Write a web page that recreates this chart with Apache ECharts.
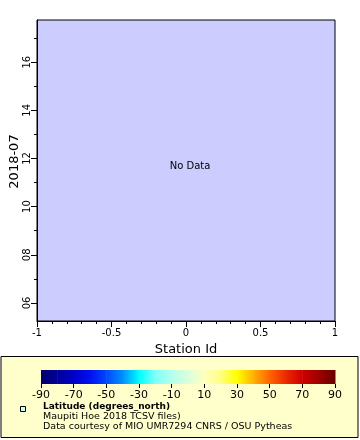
<!DOCTYPE html>
<html><head><meta charset="utf-8">
<script src="https://cdn.jsdelivr.net/npm/echarts@6/dist/echarts.min.js"></script>
<style>html,body{margin:0;padding:0;background:#fff}#c{width:360px;height:440px}</style>
</head><body><div id="c"></div>
<script>
// Axis ranges / ticks
const xRange = [-1, 1];
const yRange = [5.25, 17.75];           // days of 2018-07
const yMajorTicks = [6, 8, 10, 12, 14, 16];
const yMinorTicks = [7, 9, 11, 13, 15, 17];
// Colour bar (latitude, degrees_north)
const cbValues = [-90, -80, -70, -60, -50, -40, -30, -20, -10, 0, 10, 20, 30, 40, 50, 60, 70, 80, 90];
const cbColors = ['#00006e', '#00009a', '#0000c8', '#0010f0', '#0048ff', '#0090ff', '#00ffff', '#80fff8', '#b4ffec', '#daffdc', '#ffffc0', '#ffff80', '#ffff00', '#ffb000', '#ff6400', '#ec2800', '#cc0000', '#a00000', '#680000'];
const cbTickLabels = [-90, -70, -50, -30, -10, 10, 30, 50, 70, 90];
const legendLines = ['Latitude (degrees_north)', 'Maupiti Hoe 2018 TCSV files)', 'Data courtesy of MIO UMR7294 CNRS / OSU Pytheas'];

const segs = [];
for (let i = 0; i < cbValues.length - 1; i++) segs.push([cbValues[i], cbValues[i + 1], i]);

const FONT = 'DejaVu Sans';
const chart = echarts.init(document.getElementById('c'), null, {renderer: 'canvas'});
chart.setOption({
  animation: false,
  textStyle: {fontFamily: FONT},
  grid: [
    {left: 37, right: 25, top: 20, bottom: 119, show: true, backgroundColor: '#ccccff', borderColor: '#000', borderWidth: 1, containLabel: false, outerBoundsMode: 'none'},
    {left: 41, right: 25, top: 370, height: 14, containLabel: false, outerBoundsMode: 'none'}
  ],
  xAxis: [
    {type: 'value', gridIndex: 0, min: xRange[0], max: xRange[1], interval: 0.5,
     name: 'Station Id', nameLocation: 'middle', nameGap: 22, nameMoveOverlap: false,
     nameTextStyle: {fontSize: 13, color: '#000', fontFamily: FONT},
     axisLine: {onZero: false, lineStyle: {color: '#000'}},
     axisTick: {length: 6, lineStyle: {color: '#000'}},
     minorTick: {show: true, splitNumber: 5, length: 3, lineStyle: {color: '#000'}},
     splitLine: {show: false},
     axisLabel: {fontSize: 10, color: '#000', margin: 7, fontFamily: FONT,
       formatter: v => String(v)}},
    {type: 'value', gridIndex: 1, min: cbValues[0], max: cbValues[cbValues.length - 1],
     axisLine: {show: false, onZero: false},
     axisTick: {show: true, length: 4, customValues: cbTickLabels, lineStyle: {color: '#000'}},
     axisLabel: {fontSize: 11, color: '#000', margin: 6, customValues: cbTickLabels, fontFamily: FONT},
     splitLine: {show: false}}
  ],
  yAxis: [
    {type: 'value', gridIndex: 0, min: yRange[0], max: yRange[1], position: 'left',
     name: '2018-07', nameLocation: 'middle', nameGap: 16, nameRotate: 90, nameMoveOverlap: false,
     nameTextStyle: {fontSize: 13, color: '#000', fontFamily: FONT, padding: [0, 0, 0, 18]},
     axisLine: {onZero: false, lineStyle: {color: '#000'}},
     axisTick: {length: 6, customValues: yMajorTicks, lineStyle: {color: '#000'}},
     splitLine: {show: false},
     axisLabel: {fontSize: 10, color: '#000', rotate: 90, margin: 5, customValues: yMajorTicks, fontFamily: FONT,
       formatter: v => (v < 10 ? '0' : '') + v}},
    {type: 'value', gridIndex: 0, min: yRange[0], max: yRange[1], position: 'left',
     axisLine: {show: false, onZero: false},
     axisTick: {length: 3, customValues: yMinorTicks, lineStyle: {color: '#000'}},
     axisLabel: {show: false}, splitLine: {show: false}},
    {type: 'value', gridIndex: 1, min: 0, max: 1, show: false}
  ],
  graphic: [
    {type: 'rect', z: -10, shape: {x: 1, y: 356.5, width: 357, height: 81}, style: {fill: '#ffffcc', stroke: '#000', lineWidth: 1}},
    {type: 'text', x: 190, y: 166, style: {text: 'No Data', fontSize: 10, fontFamily: FONT, fill: '#000', align: 'center', verticalAlign: 'middle'}},
    {type: 'rect', shape: {x: 20.5, y: 406.5, width: 5, height: 5}, style: {fill: '#ccffee', stroke: '#000', lineWidth: 1}},
    {type: 'text', x: 43, y: 407, style: {text: legendLines[0], fontSize: 9, fontWeight: 'bold', fontFamily: FONT, fill: '#000', verticalAlign: 'middle'}},
    {type: 'text', x: 43, y: 417, style: {text: legendLines[1], fontSize: 9.5, fontFamily: FONT, fill: '#000', verticalAlign: 'middle'}},
    {type: 'text', x: 43, y: 427, style: {text: legendLines[2], fontSize: 9.5, fontFamily: FONT, fill: '#000', verticalAlign: 'middle'}}
  ],
  series: [
    {type: 'custom', xAxisIndex: 1, yAxisIndex: 2, data: segs, silent: true,
     renderItem: function (params, api) {
       const a = api.coord([api.value(0), 1]);
       const b = api.coord([api.value(1), 0]);
       const i = api.value(2);
       return {type: 'rect', shape: {x: a[0], y: a[1], width: b[0] - a[0] + 0.5, height: b[1] - a[1]},
         style: {fill: new echarts.graphic.LinearGradient(0, 0, 1, 0, [
           {offset: 0, color: cbColors[i]}, {offset: 1, color: cbColors[i + 1]}])}};
     }}
  ]
});
</script></body></html>
